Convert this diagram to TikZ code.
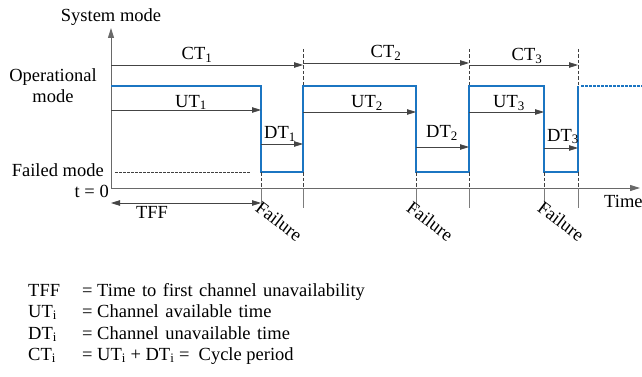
\documentclass[tikz,border=0pt]{standalone}
\usepackage{fontspec}
\setmainfont{Liberation Serif}
\usetikzlibrary{arrows.meta}
\definecolor{chanblue}{HTML}{1B75C2}
\definecolor{argray}{HTML}{444444}
\begin{document}
\begin{tikzpicture}[x=1pt,y=-1pt,
  font=\fontsize{18.5}{21}\selectfont,
  lbl/.style={inner sep=0pt, anchor=base},
  ar/.style={draw=argray, line width=0.8pt, -{Triangle[length=9pt,width=5.5pt]}},
  dar/.style={draw=argray, line width=0.8pt, {Triangle[length=9pt,width=5.5pt]}-{Triangle[length=9pt,width=5.5pt]}},
  axis/.style={draw=argray!80, line width=1pt, -{Triangle[length=10pt,width=6pt]}},
  chan/.style={draw=chanblue, line width=1.6pt, line join=miter},
  dashv/.style={draw=black!75, line width=0.9pt, dash pattern=on 3.5pt off 2pt},
  tickv/.style={draw=argray!70, line width=0.7pt},
  fail/.style={inner sep=0pt, anchor=north west, rotate=-37}
]
\useasboundingbox (0,0) rectangle (642,377);

% key positions
\coordinate (O) at (111,188);
\coordinate (Ytop) at (111,28);
\coordinate (Xend) at (640,188);
\coordinate (f1) at (261,0); \coordinate (r1) at (303,0);
\coordinate (f2) at (416,0); \coordinate (r2) at (469,0);
\coordinate (f3) at (544,0); \coordinate (r3) at (578,0);
\coordinate (op) at (0,86); \coordinate (fm) at (0,172);
\coordinate (top) at (0,49); \coordinate (tk) at (0,208);

% axes
\draw[axis] (O) -- (Ytop);
\draw[axis] (O) -- (Xend);

% channel signal
\draw[chan] (O |- op) -- (f1 |- op) -- (f1 |- fm) -- (r1 |- fm) -- (r1 |- op)
  -- (f2 |- op) -- (f2 |- fm) -- (r2 |- fm) -- (r2 |- op)
  -- (f3 |- op) -- (f3 |- fm) -- (r3 |- fm) -- (r3 |- op);
\coordinate (dotA) at (581,86); \coordinate (dotB) at (642,86);
\draw[draw=chanblue, line width=1.6pt, dash pattern=on 2.5pt off 1.5pt] (dotA) -- (dotB);

% failed mode dashed line
\coordinate (fdA) at (115,172); \coordinate (fdB) at (250,172);
\draw[dashv, line width=0.8pt, dash pattern=on 2.5pt off 1.5pt] (fdA) -- (fdB);

% dashed verticals
\foreach \p in {r1,r2,r3} \draw[dashv] (\p |- top) -- (\p |- op);
\foreach \p in {f1,r1,f2,r2,f3,r3} {
  \draw[dashv] (\p |- fm) -- (\p |- O);
  \draw[tickv] (\p |- O) -- (\p |- tk);
}

% CT arrows
\draw[ar] (O |- 0,65) -- (r1 |- 0,65);
\draw[ar] (r1 |- 0,63) -- (r2 |- 0,63);
\draw[ar] (r2 |- 0,65) -- (r3 |- 0,65);
% UT arrows
\draw[ar] (O |- 0,110) -- (f1 |- 0,110);
\draw[ar] (r1 |- 0,112) -- (f2 |- 0,112);
\draw[ar] (r2 |- 0,112) -- (f3 |- 0,112);
% DT arrows
\draw[ar] (f1 |- 0,144) -- (r1 |- 0,144);
\draw[ar] (f2 |- 0,147) -- (r2 |- 0,147);
\draw[ar] (f3 |- 0,148) -- (r3 |- 0,148);
% TFF
\draw[dar] (O |- 0,203) -- (f1 |- 0,203);

% labels on arrows
\node[lbl] (ct1) at (197,60) {CT\textsubscript{1}};
\node[lbl] (ct2) at (386,58) {CT\textsubscript{2}};
\node[lbl] (ct3) at (527,61) {CT\textsubscript{3}};
\node[lbl] (ut1) at (191,107) {UT\textsubscript{1}};
\node[lbl] (ut2) at (367,108) {UT\textsubscript{2}};
\node[lbl] (ut3) at (509,108) {UT\textsubscript{3}};
\node[lbl] (dt1) at (280,139) {DT\textsubscript{1}};
\node[lbl] (dt2) at (442,138) {DT\textsubscript{2}};
\node[lbl] (dt3) at (563,141) {DT\textsubscript{3}};
\node[lbl] (tff) at (152,218) {TFF};

% axis labels
\node[lbl] (sysmode) at (111,22) {System mode};
\node[inner sep=0pt, align=center] (opmode) at (53,86) {Operational\\mode};
\node[lbl, anchor=base east] (fmode) at (104,176) {Failed mode};
\node[lbl, anchor=base east] (t0) at (109,197) {t = 0};
\node[lbl, anchor=base west] (time) at (604,207) {Time};

% failure labels
\node[fail] (fl1) at (262,200) {Failure};
\node[fail] (fl2) at (413,200) {Failure};
\node[fail] (fl3) at (544,200) {Failure};

% legend
\node[lbl, anchor=base west] (l1a) at (28,296) {TFF};
\node[lbl, anchor=base west] (l1b) at (82,296) {=};
\node[lbl, anchor=base west] (l1c) at (97,296) {\spaceskip=0.35em plus 0.1em Time to first channel unavailability};
\node[lbl, anchor=base west] (l2a) at (28,317) {UT\textsubscript{i}};
\node[lbl, anchor=base west] (l2b) at (82,317) {=};
\node[lbl, anchor=base west] (l2c) at (97,317) {\spaceskip=0.35em plus 0.1em Channel available time};
\node[lbl, anchor=base west] (l3a) at (28,339) {DT\textsubscript{i}};
\node[lbl, anchor=base west] (l3b) at (82,339) {=};
\node[lbl, anchor=base west] (l3c) at (97,339) {\spaceskip=0.35em plus 0.1em Channel unavailable time};
\node[lbl, anchor=base west] (l4a) at (28,360) {CT\textsubscript{i}};
\node[lbl, anchor=base west] (l4b) at (82,360) {=};
\node[lbl, anchor=base west] (l4c) at (97,360) {UT\textsubscript{i} + DT\textsubscript{i} =\ \ Cycle period};
\end{tikzpicture}
\end{document}
